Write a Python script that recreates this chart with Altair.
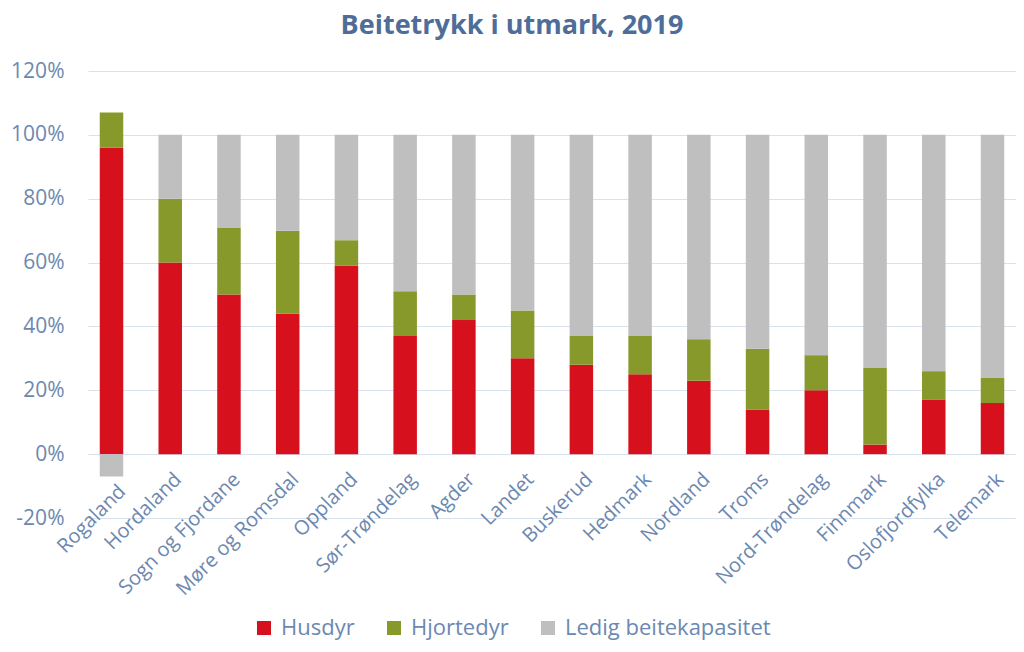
import altair as alt
import pandas as pd

regions = ["Rogaland", "Hordaland", "Sogn og Fjordane", "Møre og Romsdal", "Oppland",
           "Sør-Trøndelag", "Agder", "Landet", "Buskerud", "Hedmark", "Nordland",
           "Troms", "Nord-Trøndelag", "Finnmark", "Oslofjordfylka", "Telemark"]
husdyr = [96, 60, 50, 44, 59, 37, 42, 30, 28, 25, 23, 14, 20, 3, 17, 16]
hjortedyr = [11, 20, 21, 26, 8, 14, 8, 15, 9, 12, 13, 19, 11, 24, 9, 8]
ledig = [-7, 20, 29, 30, 33, 49, 50, 55, 63, 63, 64, 67, 69, 73, 74, 76]

series = ["Husdyr", "Hjortedyr", "Ledig beitekapasitet"]
colors = ["#D7101D", "#86992A", "#BFBFBF"]
title_text = ["Beitetrykk i utmark, 2019"]

rows = []
for i, r in enumerate(regions):
    for k, (s, vals) in enumerate(zip(series, [husdyr, hjortedyr, ledig])):
        rows.append({"region": r, "serie": s, "verdi": vals[i], "rekke": k})
df = pd.DataFrame(rows)

label_color = "#6C88B0"
font = "Open Sans"

bars = alt.Chart(df).mark_bar().encode(
    x=alt.X("region:N", sort=regions, title=None,
            scale=alt.Scale(paddingInner=0.6, paddingOuter=0.2),
            axis=alt.Axis(labelAngle=315, labelAlign="right", labelBaseline="middle",
                          labelPadding={"condition": {"test": "datum.value == 'Rogaland'", "value": 34}, "value": 22},
                          labelOffset={"condition": {"test": "datum.value == 'Rogaland'", "value": 11}, "value": 8},
                          offset=-64, domain=False,
                          ticks=False, labelFontSize=20, labelColor=label_color,
                          labelFont=font, grid=False)),
    y=alt.Y("verdi:Q", stack="zero", title=None,
            scale=alt.Scale(domain=[-20, 120], nice=False),
            axis=alt.Axis(values=[-20, 0, 20, 40, 60, 80, 100, 120],
                          labelExpr="datum.value + '%'", domain=False, ticks=False,
                          labelPadding=24, labelFontSize=21, labelColor=label_color,
                          labelFont=font, gridColor="#D9E1EC", gridWidth=1.2)),
    color=alt.Color("serie:N", sort=series,
                    scale=alt.Scale(domain=series, range=colors),
                    legend=alt.Legend(title=None, orient="none", legendX=165, legendY=546,
                                      direction="horizontal", symbolType="square",
                                      symbolSize=196, symbolStrokeWidth=0,
                                      labelFontSize=22, labelFont=font, labelLimit=400,
                                      labelColor=label_color, columnPadding=28,
                                      labelOffset=6, padding=0)),
    order=alt.Order("rekke:Q", sort="ascending"),
)

title = alt.Chart(pd.DataFrame({"t": title_text})).mark_text(
    font=font, fontSize=27, fontWeight="bold", color="#4E6D99",
    align="center", baseline="alphabetic",
).encode(text="t:N", x=alt.value(424), y=alt.value(-37))

chart = alt.layer(bars, title).properties(
    width=928, height=447,
    padding={"left": 80, "top": 63, "right": 0, "bottom": 126},
    autosize=alt.AutoSizeParams(type="none"),
).configure_view(stroke=None)

chart.save("out.html", embed_options={"renderer": "svg", "actions": False})
